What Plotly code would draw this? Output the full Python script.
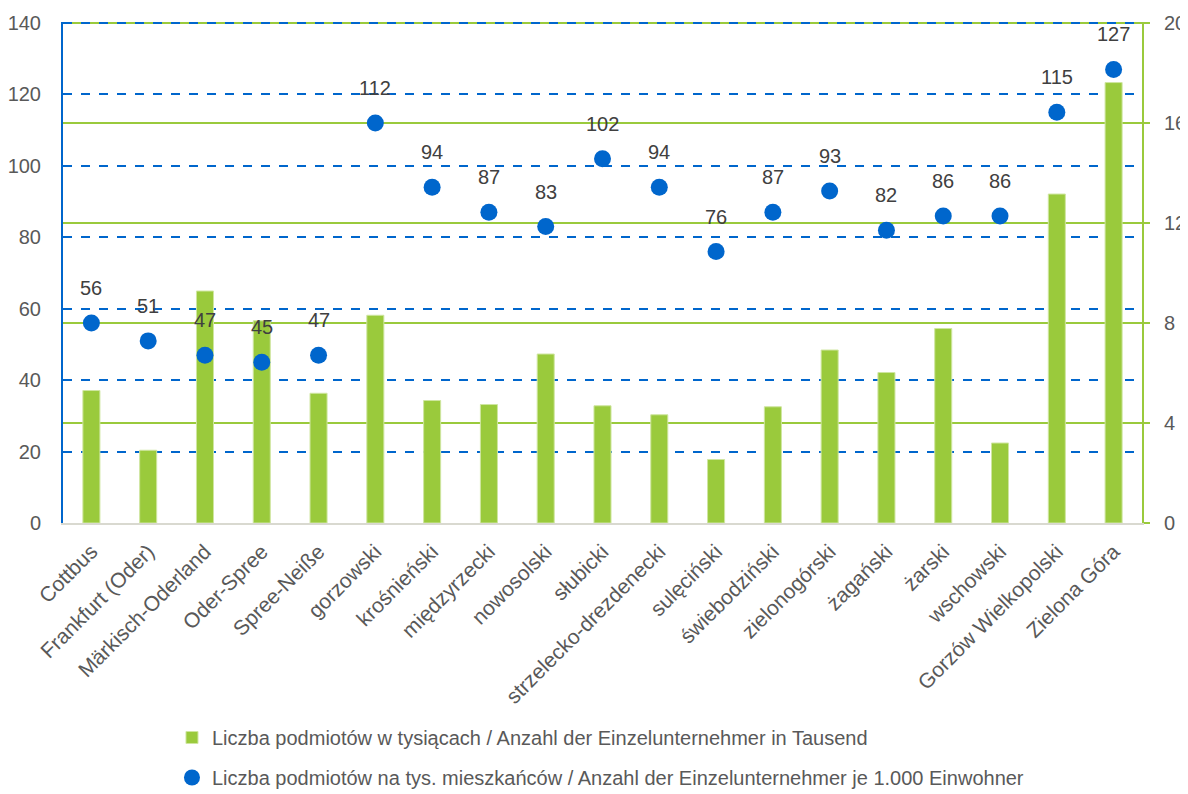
import plotly.graph_objects as go

categories = ["Cottbus", "Frankfurt (Oder)", "Märkisch-Oderland", "Oder-Spree", "Spree-Neiße",
              "gorzowski", "krośnieński", "międzyrzecki", "nowosolski", "słubicki",
              "strzelecko-drezdenecki", "sulęciński", "świebodziński", "zielonogórski",
              "żagański", "żarski", "wschowski", "Gorzów Wielkopolski", "Zielona Góra"]
# bars: thousands of entities (right axis, 0-20)
bar_values = [5.30, 2.91, 9.28, 8.09, 5.19, 8.31, 4.90, 4.74, 6.76, 4.69,
              4.33, 2.54, 4.65, 6.92, 6.02, 7.78, 3.20, 13.16, 17.62]
# dots: entities per 1000 inhabitants (left axis, 0-140)
dot_values = [56, 51, 47, 45, 47, 112, 94, 87, 83, 102, 94, 76, 87, 93, 82, 86, 86, 115, 127]

bar_name = "Liczba podmiotów w tysiącach / Anzahl der Einzelunternehmer in Tausend"
dot_name = "Liczba podmiotów na tys. mieszkańców / Anzahl der Einzelunternehmer je 1.000 Einwohner"

FONT = "Liberation Sans, Arial, sans-serif"
GREEN = "#9aca3c"
BLUE = "#0066cc"
TXT = "#595959"

fig = go.Figure()
fig.add_trace(go.Bar(
    x=categories, y=bar_values, name=bar_name, yaxis="y",
    marker=dict(color=GREEN, line=dict(color="#cfe6a0", width=1)),
    width=0.3, legendgroup="a",
))
fig.add_trace(go.Scatter(
    x=categories, y=dot_values, name=dot_name, yaxis="y2",
    mode="markers",
    marker=dict(color=BLUE, size=17), legendgroup="b",
))

annotations = [
    dict(x=c, y=v, xref="x", yref="y2", text=str(v), showarrow=False,
         yshift=35, font=dict(family=FONT, size=20, color="#404040"))
    for c, v in zip(categories, dot_values)
]

# page body adds ~8px offset; compensate in size/margins
fig.update_layout(
    width=1180, height=786,
    paper_bgcolor="white", plot_bgcolor="white",
    margin=dict(l=55, r=46, t=14, b=271),
    font=dict(family=FONT, size=20, color=TXT),
    showlegend=True,
    annotations=annotations,
    legend=dict(x=0.101, xref="paper", y=0.0967, yref="container",
                xanchor="left", yanchor="top",
                orientation="v", tracegroupgap=11,
                font=dict(family=FONT, size=20, color=TXT),
                itemwidth=30),
    xaxis=dict(
        range=[-0.5, len(categories) - 0.5],
        tickangle=-45, showgrid=False, showline=True, linecolor="#d9d9d0",
        linewidth=2, ticks="", automargin=False,
        ticklabelshift=0, ticklabelstandoff=6,
        tickfont=dict(family=FONT, size=21, color=TXT),
    ),
    yaxis=dict(
        side="right", range=[0, 20.043], tickvals=[0, 4, 8, 12, 16, 20],
        showgrid=True, gridcolor=GREEN,
        gridwidth=2, showline=True, linecolor=GREEN, linewidth=2,
        ticks="outside", ticklen=6, tickcolor=GREEN, tickwidth=2,
        zeroline=False, automargin=False,
        tickfont=dict(family=FONT, size=20, color=TXT),
        ticklabelstandoff=10,
    ),
    yaxis2=dict(
        side="left", overlaying="y", range=[0, 140.3],
        tickvals=[0, 20, 40, 60, 80, 100, 120, 140], showgrid=True,
        gridcolor=BLUE, gridwidth=2, griddash="dash", showline=True,
        linecolor=BLUE, linewidth=2, ticks="", zeroline=False,
        automargin=False,
        tickfont=dict(family=FONT, size=20, color=TXT),
        ticklabelstandoff=16,
    ),
)

fig.write_html("out.html")
